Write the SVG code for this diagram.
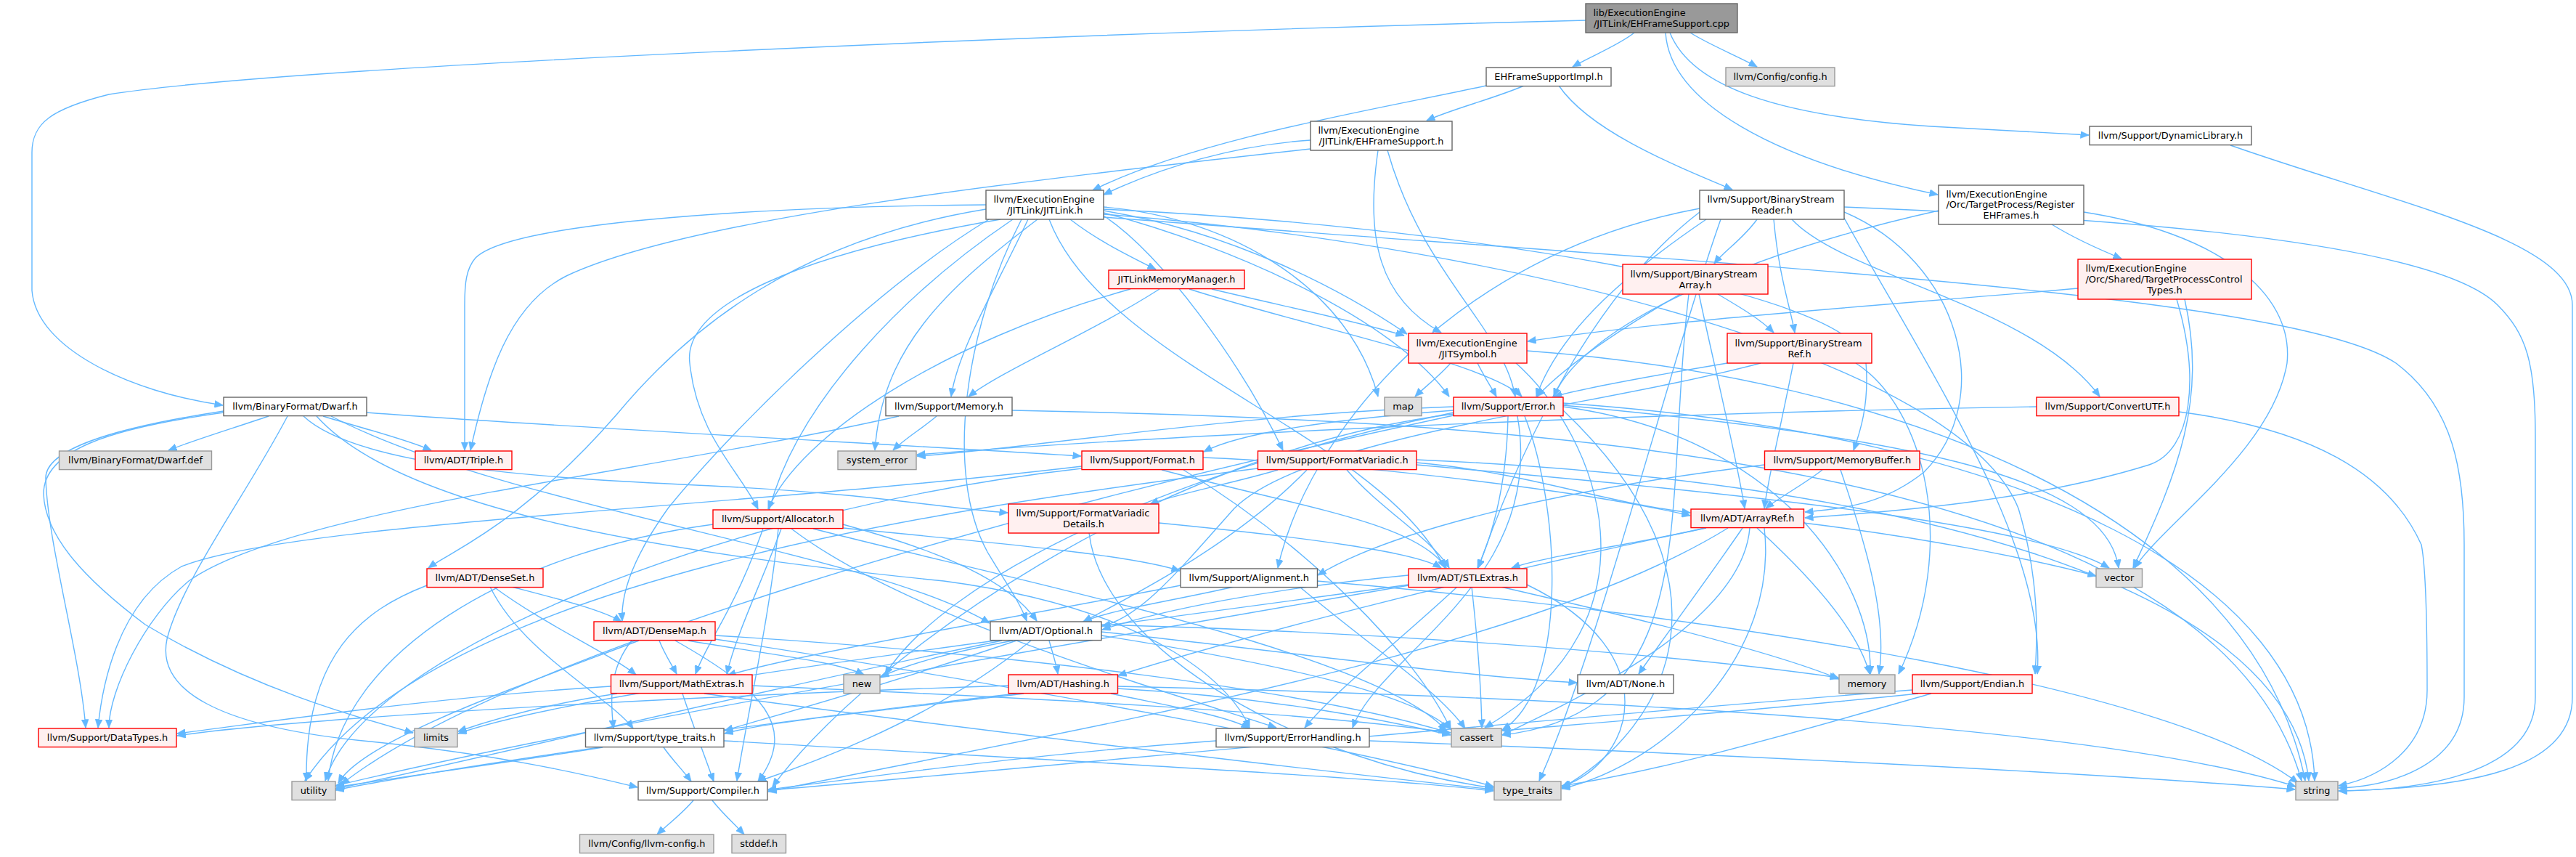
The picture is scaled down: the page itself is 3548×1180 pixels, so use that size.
<svg xmlns="http://www.w3.org/2000/svg" width="3548" height="1180" viewBox="0 0 3548 1180">
<style>
rect.w{fill:#ffffff;stroke:#666666;stroke-width:1.4}
rect.r{fill:#fff0f0;stroke:#ff0000;stroke-width:1.4}
rect.g{fill:#e0e0e0;stroke:#999999;stroke-width:1.4}
rect.k{fill:#999999;stroke:#666666;stroke-width:1.4}
text{font-family:"DejaVu Sans","Liberation Sans",sans-serif;font-size:12.9px;fill:#000000}
text.c{text-anchor:middle}
#edges path{fill:none;stroke:#63b8ff;stroke-width:1.4;marker-end:url(#arr)}
</style>
<defs>
<marker id="arr" viewBox="0 0 12 10" refX="11.5" refY="5" markerWidth="12" markerHeight="10" markerUnits="userSpaceOnUse" orient="auto" preserveAspectRatio="none">
<path d="M0,0 L12,5 L0,10 z" fill="#63b8ff" stroke="#63b8ff" stroke-width="0.5"/>
</marker>
</defs>
<rect x="0" y="0" width="3548" height="1180" fill="#ffffff"/>
<g id="edges">
<path d="M2251,45 C2230,62 2190,78 2166,92"/>
<path d="M2328,45 C2355,62 2395,78 2420,92"/>
<path d="M2294,45 C2300,140 2440,220 2669,268"/>
<path d="M2300,45 C2330,120 2450,160 2660,174 C2760,180 2830,184 2877,186"/>
<path d="M2184,28 C1500,45 400,90 150,130 C70,150 44,170 44,210 L44,400 C50,480 180,540 307,558"/>
<path d="M2047,118 C1900,150 1650,190 1505,262"/>
<path d="M2099,118 C2060,135 2000,150 1965,166"/>
<path d="M2147,118 C2190,180 2300,225 2386,261"/>
<path d="M1805,193 C1700,200 1600,230 1520,268"/>
<path d="M1805,205 C1400,250 950,300 780,380 C700,420 670,520 648,620"/>
<path d="M1898,207 C1880,330 1900,410 1985,458"/>
<path d="M1911,207 C1960,380 2070,450 2087,546"/>
<path d="M1358,282 C1000,285 700,310 655,355 C642,370 640,390 640,420 L640,620"/>
<path d="M1358,288 C1100,330 950,450 850,570 C720,720 620,760 590,782"/>
<path d="M1362,302 C1200,400 1000,600 920,700 C870,770 855,820 857,855"/>
<path d="M1378,302 C1100,350 940,420 950,500 C960,600 1020,650 1044,701"/>
<path d="M1395,302 C1250,400 1100,550 1060,700 C1020,830 975,880 958,928"/>
<path d="M1407,302 C1330,450 1300,650 1360,760 C1390,810 1405,830 1414,855"/>
<path d="M1416,302 C1370,400 1320,480 1310,546"/>
<path d="M1429,302 C1300,400 1215,480 1205,620"/>
<path d="M1520,285 C1700,300 1860,400 1898,546"/>
<path d="M1520,290 C1700,320 1850,400 1938,460"/>
<path d="M1520,293 C1700,340 1920,440 1996,546"/>
<path d="M1474,302 C1510,330 1550,350 1592,371"/>
<path d="M1520,297 C1600,350 1710,500 1767,620"/>
<path d="M1520,288 C2000,310 2560,400 2570,500 C2575,560 2560,600 2553,620"/>
<path d="M1520,295 C2100,340 2700,500 2780,700 C2810,800 2806,880 2803,928"/>
<path d="M1445,302 C1520,500 1900,600 1990,782"/>
<path d="M1520,299 C2300,360 3150,400 3300,500 C3380,560 3394,650 3394,750 L3394,960 C3394,1050 3300,1082 3221,1085"/>
<path d="M1597,398 C1500,460 1380,510 1334,546"/>
<path d="M1669,398 C1760,420 1860,440 1934,462"/>
<path d="M1638,398 C1800,450 2050,500 2096,546"/>
<path d="M1557,398 C1300,470 1100,600 1058,701"/>
<path d="M2420,302 C2400,330 2375,345 2361,363"/>
<path d="M2443,302 C2450,380 2465,420 2472,458"/>
<path d="M2468,302 C2540,380 2800,420 2892,546"/>
<path d="M2540,292 C2700,360 2750,550 2650,650 C2600,690 2550,700 2486,705"/>
<path d="M2341,292 C2200,400 2100,600 2036,782"/>
<path d="M2341,287 C2000,350 1800,600 1760,782"/>
<path d="M2540,300 C2650,500 2820,750 2806,928"/>
<path d="M2350,302 C2250,370 2150,450 2116,546"/>
<path d="M2370,302 C2300,500 2200,900 2120,1075"/>
<path d="M2540,285 C2900,300 3350,330 3440,420 C3480,460 3492,500 3492,600 L3492,960 C3492,1060 3350,1088 3221,1089"/>
<path d="M2826,309 C2860,330 2895,345 2922,356"/>
<path d="M2670,290 C2400,350 2180,450 2140,546"/>
<path d="M2870,292 C3050,320 3160,400 3150,500 C3130,620 2980,720 2940,782"/>
<path d="M3072,200 C3300,280 3543,330 3543,420 L3543,960 C3543,1060 3400,1085 3221,1089"/>
<path d="M2862,397 C2600,420 2300,440 2104,470"/>
<path d="M2998,412 C3030,520 3020,620 2960,640 C2800,690 2600,705 2486,713"/>
<path d="M3009,412 C3040,550 3000,650 2938,782"/>
<path d="M2366,405 C2400,425 2425,440 2443,458"/>
<path d="M2340,405 C2360,500 2390,620 2403,700"/>
<path d="M2314,405 C2220,460 2150,510 2117,546"/>
<path d="M2326,405 C2290,700 2350,980 2069,1012"/>
<path d="M1998,500 C1980,520 1960,535 1949,546"/>
<path d="M2035,500 C2045,520 2055,535 2061,546"/>
<path d="M2088,500 C2200,600 2300,850 2045,1002"/>
<path d="M2103,483 C2600,520 3100,700 3175,1075"/>
<path d="M2379,500 C2260,520 2180,535 2140,546"/>
<path d="M2425,500 C2200,560 1800,600 1700,700 C1620,790 1570,850 1518,862"/>
<path d="M2470,500 C2450,600 2435,660 2430,700"/>
<path d="M2556,500 C2650,560 2700,750 2615,928"/>
<path d="M2002,560 C1700,570 1400,620 1263,628"/>
<path d="M2002,565 C1800,580 1700,600 1658,622"/>
<path d="M2077,573 C2075,680 2050,750 2035,782"/>
<path d="M2002,570 C1600,620 1200,900 1064,1083"/>
<path d="M2090,573 C2130,800 1900,900 1863,1002"/>
<path d="M2100,573 C2150,700 2160,950 2069,1005"/>
<path d="M2153,560 C2450,600 2580,800 2576,928"/>
<path d="M2002,568 C1600,650 1300,800 1219,929"/>
<path d="M2153,555 C2800,600 3180,800 3188,1075"/>
<path d="M2153,565 C2400,800 2300,1000 2151,1085"/>
<path d="M2002,572 C1400,700 700,900 470,1080"/>
<path d="M2153,558 C2600,600 2900,650 2918,782"/>
<path d="M1290,573 C1270,590 1245,605 1230,620"/>
<path d="M1238,573 C900,650 400,700 260,800 C200,850 150,950 150,1002"/>
<path d="M1394,565 C2200,580 3050,650 3170,1075"/>
<path d="M370,573 C320,590 270,605 232,620"/>
<path d="M445,573 C500,590 560,605 594,620"/>
<path d="M505,568 C800,590 1200,610 1489,628"/>
<path d="M418,573 C500,650 800,660 1000,670 C1200,680 1300,700 1388,706"/>
<path d="M308,566 C150,590 60,620 63,660 C66,750 110,900 118,1002"/>
<path d="M396,573 C340,680 250,800 230,880 C215,950 300,1000 500,1020 C700,1040 820,1070 878,1084"/>
<path d="M436,573 C550,700 900,760 1300,800 C1600,840 1700,950 1721,1002"/>
<path d="M308,568 C150,590 60,620 60,680 C62,740 120,800 200,860 C350,950 500,990 569,1009"/>
<path d="M456,573 C700,700 1200,760 1363,858"/>
<path d="M1657,630 C1900,640 2200,680 2328,710"/>
<path d="M1600,647 C1800,700 1950,720 1992,782"/>
<path d="M1490,642 C1000,700 400,720 250,780 C160,830 140,950 135,1002"/>
<path d="M1630,647 C1800,750 1950,900 1998,1004"/>
<path d="M1490,645 C1000,700 500,900 448,1075"/>
<path d="M1760,647 C1700,665 1620,680 1584,694"/>
<path d="M1800,647 C1700,750 1560,820 1492,856"/>
<path d="M1855,647 C1900,700 1970,740 1996,782"/>
<path d="M1951,637 C2100,650 2200,690 2328,706"/>
<path d="M1951,633 C2600,660 3150,800 3180,1075"/>
<path d="M1732,645 C1300,700 600,800 420,1075"/>
<path d="M1951,640 C2400,680 2800,720 2905,782"/>
<path d="M1596,720 C1800,740 1950,760 1985,782"/>
<path d="M1500,734 C1520,900 1800,1050 2057,1085"/>
<path d="M1161,722 C1300,760 1390,800 1428,855"/>
<path d="M1161,727 C1400,750 1560,765 1625,786"/>
<path d="M1072,728 C1060,850 1030,980 1015,1075"/>
<path d="M1090,728 C1250,850 1600,950 1758,1002"/>
<path d="M1076,728 C1050,800 1015,870 1001,928"/>
<path d="M1120,728 C1400,800 1900,900 1992,1006"/>
<path d="M982,722 C700,760 470,900 452,1075"/>
<path d="M2510,647 C2480,670 2450,685 2432,700"/>
<path d="M2535,647 C2570,750 2600,850 2588,928"/>
<path d="M2430,640 C2100,680 1900,740 1815,792"/>
<path d="M2805,560 C2200,570 1600,600 1263,626"/>
<path d="M3001,567 C3180,590 3290,650 3335,750 C3343,790 3343,900 3343,950 C3343,1030 3280,1070 3221,1082"/>
<path d="M2350,727 C2000,800 1700,880 1540,930"/>
<path d="M2400,727 C2350,800 2290,880 2257,928"/>
<path d="M2348,727 C2250,750 2130,765 2082,782"/>
<path d="M2380,727 C2100,900 1500,1000 1058,1090"/>
<path d="M2410,727 C2400,850 2200,950 2069,1012"/>
<path d="M2420,727 C2500,800 2560,870 2575,928"/>
<path d="M2430,727 C2450,900 2300,1050 2151,1086"/>
<path d="M2484,720 C2650,740 2800,770 2887,793"/>
<path d="M1940,792 C1750,810 1600,840 1518,867"/>
<path d="M2007,808 C1930,880 1840,950 1797,1002"/>
<path d="M2027,808 C2035,880 2040,950 2041,1002"/>
<path d="M2067,808 C2250,850 2450,900 2533,935"/>
<path d="M1940,805 C1400,880 800,950 631,1010"/>
<path d="M2103,805 C2300,900 2250,1050 2151,1083"/>
<path d="M1940,806 C1400,900 800,1000 462,1082"/>
<path d="M705,808 C770,825 830,840 856,856"/>
<path d="M680,808 C750,860 840,900 876,929"/>
<path d="M675,808 C720,900 840,960 872,1003"/>
<path d="M588,806 C500,840 420,900 422,1075"/>
<path d="M908,882 C915,900 925,915 932,928"/>
<path d="M930,882 C1050,950 1100,1000 1044,1076"/>
<path d="M948,882 C1050,900 1150,910 1190,929"/>
<path d="M870,882 C840,920 840,960 845,1003"/>
<path d="M985,875 C1400,900 1800,950 1993,1008"/>
<path d="M880,882 C700,950 500,1020 466,1078"/>
<path d="M985,880 C1500,960 1900,1040 2057,1083"/>
<path d="M1445,882 C1450,900 1455,915 1457,928"/>
<path d="M1517,870 C1800,900 2000,930 2172,940"/>
<path d="M1420,882 C1300,980 1150,1040 1044,1076"/>
<path d="M1395,882 C1300,900 1250,915 1213,932"/>
<path d="M1400,882 C1200,950 1050,990 998,1006"/>
<path d="M1517,875 C1800,920 1950,960 1998,1004"/>
<path d="M1517,860 C1900,870 2300,900 2532,933"/>
<path d="M1380,882 C1000,960 600,1060 462,1086"/>
<path d="M1700,808 C1600,830 1530,840 1492,856"/>
<path d="M1626,806 C1400,850 1100,900 1002,930"/>
<path d="M1790,808 C1900,900 1980,950 2018,1003"/>
<path d="M1814,800 C2400,850 3000,950 3165,1078"/>
<path d="M940,955 C955,1000 970,1040 983,1076"/>
<path d="M841,945 C600,960 400,990 244,1010"/>
<path d="M850,955 C750,970 680,990 631,1007"/>
<path d="M970,955 C1300,1000 1800,1060 2057,1087"/>
<path d="M1036,944 C1400,960 1800,980 1998,1009"/>
<path d="M1530,955 C1600,970 1690,985 1721,1003"/>
<path d="M1410,955 C1200,980 1050,995 998,1010"/>
<path d="M1389,944 C900,960 400,990 244,1013"/>
<path d="M1539,948 C1750,960 1900,990 1998,1012"/>
<path d="M1539,945 C2200,960 2900,1000 3162,1083"/>
<path d="M1400,955 C1000,1000 600,1060 462,1088"/>
<path d="M2634,950 C2000,1000 1400,1060 1058,1088"/>
<path d="M2642,955 C2400,980 2200,995 2069,1006"/>
<path d="M2660,955 C2500,1000 2300,1060 2151,1082"/>
<path d="M914,1029 C925,1045 940,1060 952,1076"/>
<path d="M997,1020 C1500,1050 1900,1070 2057,1089"/>
<path d="M830,1029 C700,1050 550,1070 463,1084"/>
<path d="M1675,1020 C1400,1040 1200,1070 1058,1087"/>
<path d="M1886,1020 C2400,1040 2900,1065 3161,1087"/>
<path d="M955,1102 C940,1120 920,1135 905,1149"/>
<path d="M981,1102 C995,1120 1012,1135 1025,1149"/>
</g>
<g id="n_root"><rect class="k" x="2184" y="5" width="209" height="40"/><text x="2194.5" y="22">lib/ExecutionEngine</text><text class="c" x="2288.5" y="37">/JITLink/EHFrameSupport.cpp</text></g>
<g id="n_impl"><rect class="w" x="2047" y="93" width="172" height="25.6"/><text class="c" x="2133" y="110.3">EHFrameSupportImpl.h</text></g>
<g id="n_config"><rect class="g" x="2377" y="93" width="150" height="25.6"/><text class="c" x="2452" y="110.3">llvm/Config/config.h</text></g>
<g id="n_ehfs"><rect class="w" x="1805" y="167" width="195" height="40"/><text x="1815.5" y="184">llvm/ExecutionEngine</text><text class="c" x="1902.5" y="199">/JITLink/EHFrameSupport.h</text></g>
<g id="n_dynlib"><rect class="w" x="2878" y="174" width="223" height="25.6"/><text class="c" x="2989.5" y="191.3">llvm/Support/DynamicLibrary.h</text></g>
<g id="n_jitlink"><rect class="w" x="1358" y="262" width="162" height="40"/><text x="1368.5" y="279">llvm/ExecutionEngine</text><text class="c" x="1439" y="294">/JITLink/JITLink.h</text></g>
<g id="n_bsreader"><rect class="w" x="2341" y="262" width="199" height="40"/><text x="2351.5" y="279">llvm/Support/BinaryStream</text><text class="c" x="2440.5" y="294">Reader.h</text></g>
<g id="n_regeh"><rect class="w" x="2670" y="255" width="200" height="54"/><text x="2680.5" y="271.5">llvm/ExecutionEngine</text><text x="2680.5" y="286.3">/Orc/TargetProcess/Register</text><text class="c" x="2770" y="301">EHFrames.h</text></g>
<g id="n_jlmm"><rect class="r" x="1527" y="372" width="187" height="25.6"/><text class="c" x="1620.5" y="389.3">JITLinkMemoryManager.h</text></g>
<g id="n_bsarray"><rect class="r" x="2235" y="364" width="200" height="41"/><text x="2245.5" y="381.5">llvm/Support/BinaryStream</text><text class="c" x="2335" y="396.5">Array.h</text></g>
<g id="n_tpct"><rect class="r" x="2862" y="357" width="239" height="55"/><text x="2872.5" y="374">llvm/ExecutionEngine</text><text x="2872.5" y="388.8">/Orc/Shared/TargetProcessControl</text><text class="c" x="2981.5" y="403.5">Types.h</text></g>
<g id="n_jitsym"><rect class="r" x="1940" y="459" width="163" height="41"/><text x="1950.5" y="476.5">llvm/ExecutionEngine</text><text class="c" x="2021.5" y="491.5">/JITSymbol.h</text></g>
<g id="n_bsref"><rect class="r" x="2379" y="459" width="199" height="41"/><text x="2389.5" y="476.5">llvm/Support/BinaryStream</text><text class="c" x="2478.5" y="491.5">Ref.h</text></g>
<g id="n_dwarf"><rect class="w" x="308" y="547" width="197" height="25.6"/><text class="c" x="406.5" y="564.3">llvm/BinaryFormat/Dwarf.h</text></g>
<g id="n_memoryh"><rect class="w" x="1220" y="547" width="174" height="25.6"/><text class="c" x="1307" y="564.3">llvm/Support/Memory.h</text></g>
<g id="n_map"><rect class="g" x="1907" y="547" width="51" height="25.6"/><text class="c" x="1932.5" y="564.3">map</text></g>
<g id="n_error"><rect class="r" x="2002" y="547" width="151" height="25.6"/><text class="c" x="2077.5" y="564.3">llvm/Support/Error.h</text></g>
<g id="n_convutf"><rect class="r" x="2805" y="547" width="196" height="25.6"/><text class="c" x="2903" y="564.3">llvm/Support/ConvertUTF.h</text></g>
<g id="n_dwarfdef"><rect class="g" x="81.5" y="621" width="210" height="25.6"/><text class="c" x="186.5" y="638.3">llvm/BinaryFormat/Dwarf.def</text></g>
<g id="n_triple"><rect class="r" x="572" y="621" width="133" height="25.6"/><text class="c" x="638.5" y="638.3">llvm/ADT/Triple.h</text></g>
<g id="n_syserr"><rect class="g" x="1154" y="621" width="108" height="25.6"/><text class="c" x="1208" y="638.3">system_error</text></g>
<g id="n_format"><rect class="r" x="1490" y="621" width="167" height="25.6"/><text class="c" x="1573.5" y="638.3">llvm/Support/Format.h</text></g>
<g id="n_fmtvar"><rect class="r" x="1732.5" y="621" width="218.5" height="25.6"/><text class="c" x="1841.75" y="638.3">llvm/Support/FormatVariadic.h</text></g>
<g id="n_membuf"><rect class="r" x="2430.5" y="621" width="213.5" height="25.6"/><text class="c" x="2537.25" y="638.3">llvm/Support/MemoryBuffer.h</text></g>
<g id="n_alloc"><rect class="r" x="982" y="702" width="179" height="25.6"/><text class="c" x="1071.5" y="719.3">llvm/Support/Allocator.h</text></g>
<g id="n_fvdet"><rect class="r" x="1389" y="694" width="207" height="40"/><text x="1399.5" y="711">llvm/Support/FormatVariadic</text><text class="c" x="1492.5" y="726">Details.h</text></g>
<g id="n_arrayref"><rect class="r" x="2329" y="701" width="155.5" height="25.6"/><text class="c" x="2406.75" y="718.3">llvm/ADT/ArrayRef.h</text></g>
<g id="n_denseset"><rect class="r" x="588" y="783" width="160" height="25.6"/><text class="c" x="668" y="800.3">llvm/ADT/DenseSet.h</text></g>
<g id="n_align"><rect class="w" x="1626" y="783" width="188.5" height="25.6"/><text class="c" x="1720.25" y="800.3">llvm/Support/Alignment.h</text></g>
<g id="n_stlext"><rect class="r" x="1940" y="783" width="163" height="25.6"/><text class="c" x="2021.5" y="800.3">llvm/ADT/STLExtras.h</text></g>
<g id="n_vector"><rect class="g" x="2887" y="783" width="63.5" height="25.6"/><text class="c" x="2918.75" y="800.3">vector</text></g>
<g id="n_densemap"><rect class="r" x="818" y="856" width="167" height="25.6"/><text class="c" x="901.5" y="873.3">llvm/ADT/DenseMap.h</text></g>
<g id="n_optional"><rect class="w" x="1364" y="856" width="153" height="25.6"/><text class="c" x="1440.5" y="873.3">llvm/ADT/Optional.h</text></g>
<g id="n_mathext"><rect class="r" x="841.5" y="929" width="194.5" height="25.6"/><text class="c" x="938.75" y="946.3">llvm/Support/MathExtras.h</text></g>
<g id="n_new"><rect class="g" x="1162" y="929" width="50" height="25.6"/><text class="c" x="1187" y="946.3">new</text></g>
<g id="n_hashing"><rect class="r" x="1389" y="929" width="150.5" height="25.6"/><text class="c" x="1464.25" y="946.3">llvm/ADT/Hashing.h</text></g>
<g id="n_none"><rect class="w" x="2173" y="929" width="132" height="25.6"/><text class="c" x="2239" y="946.3">llvm/ADT/None.h</text></g>
<g id="n_memory"><rect class="g" x="2533" y="929" width="77" height="25.6"/><text class="c" x="2571.5" y="946.3">memory</text></g>
<g id="n_endian"><rect class="r" x="2634" y="929" width="165" height="25.6"/><text class="c" x="2716.5" y="946.3">llvm/Support/Endian.h</text></g>
<g id="n_datatypes"><rect class="r" x="53" y="1003" width="190" height="25.6"/><text class="c" x="148" y="1020.3">llvm/Support/DataTypes.h</text></g>
<g id="n_limits"><rect class="g" x="571" y="1003" width="59" height="25.6"/><text class="c" x="600.5" y="1020.3">limits</text></g>
<g id="n_ttllvm"><rect class="w" x="806.5" y="1003" width="190.5" height="25.6"/><text class="c" x="901.75" y="1020.3">llvm/Support/type_traits.h</text></g>
<g id="n_errhand"><rect class="w" x="1675" y="1003" width="211" height="25.6"/><text class="c" x="1780.5" y="1020.3">llvm/Support/ErrorHandling.h</text></g>
<g id="n_cassert"><rect class="g" x="1999" y="1003" width="69" height="25.6"/><text class="c" x="2033.5" y="1020.3">cassert</text></g>
<g id="n_utility"><rect class="g" x="402" y="1076" width="60" height="25.6"/><text class="c" x="432" y="1093.3">utility</text></g>
<g id="n_compiler"><rect class="w" x="879" y="1076" width="178" height="25.6"/><text class="c" x="968" y="1093.3">llvm/Support/Compiler.h</text></g>
<g id="n_tt"><rect class="g" x="2058" y="1076" width="92" height="25.6"/><text class="c" x="2104" y="1093.3">type_traits</text></g>
<g id="n_string"><rect class="g" x="3162" y="1076" width="58" height="25.6"/><text class="c" x="3191" y="1093.3">string</text></g>
<g id="n_llvmconfig"><rect class="g" x="798.5" y="1149" width="184.5" height="25.6"/><text class="c" x="890.75" y="1166.3">llvm/Config/llvm-config.h</text></g>
<g id="n_stddef"><rect class="g" x="1008" y="1149" width="74.5" height="25.6"/><text class="c" x="1045.25" y="1166.3">stddef.h</text></g>
</svg>
